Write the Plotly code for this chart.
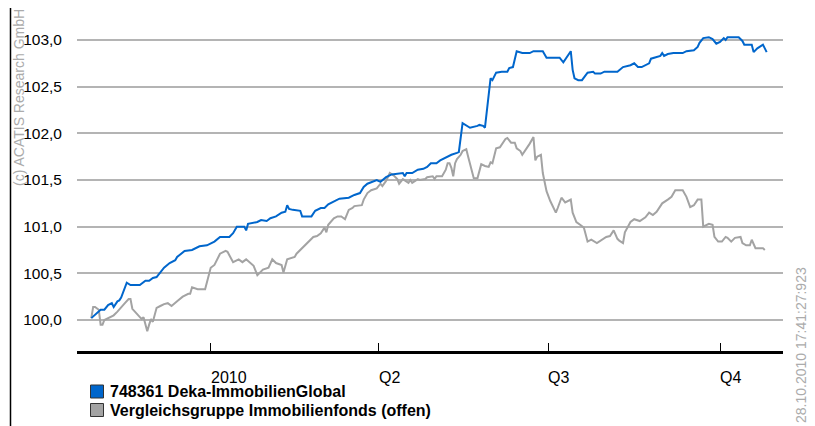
import plotly.graph_objects as go

# ---------------- data ----------------
fund_name = "748361 Deka-ImmobilienGlobal"
peer_name = "Vergleichsgruppe Immobilienfonds (offen)"

fund_dates = [
    "2009-10-29", "2009-10-30", "2009-11-03", "2009-11-05", "2009-11-07", "2009-11-09", "2009-11-10",
    "2009-11-12", "2009-11-13", "2009-11-14", "2009-11-17", "2009-11-19", "2009-11-24", "2009-11-27",
    "2009-11-29", "2009-12-01", "2009-12-03", "2009-12-07", "2009-12-10", "2009-12-13", "2009-12-14",
    "2009-12-18", "2009-12-22", "2009-12-26", "2009-12-30", "2010-01-03", "2010-01-06", "2010-01-11",
    "2010-01-13", "2010-01-15", "2010-01-19", "2010-01-20", "2010-01-21", "2010-01-26", "2010-01-28",
    "2010-01-31", "2010-02-02", "2010-02-05", "2010-02-08", "2010-02-10", "2010-02-11", "2010-02-12",
    "2010-02-14", "2010-02-18", "2010-02-19", "2010-02-24", "2010-02-26", "2010-03-01", "2010-03-03",
    "2010-03-05", "2010-03-09", "2010-03-11", "2010-03-16", "2010-03-19", "2010-03-22", "2010-03-24",
    "2010-03-26", "2010-03-30", "2010-03-31", "2010-04-02", "2010-04-05", "2010-04-08", "2010-04-14",
    "2010-04-15", "2010-04-16", "2010-04-19", "2010-04-22", "2010-04-25", "2010-04-27", "2010-04-29",
    "2010-05-02", "2010-05-04", "2010-05-08", "2010-05-10", "2010-05-13", "2010-05-14", "2010-05-16",
    "2010-05-20", "2010-05-24", "2010-05-25", "2010-05-27", "2010-05-28", "2010-05-31", "2010-06-01",
    "2010-06-03", "2010-06-06", "2010-06-09", "2010-06-10", "2010-06-12", "2010-06-14", "2010-06-17",
    "2010-06-21", "2010-06-23", "2010-06-28", "2010-06-30", "2010-07-07", "2010-07-09", "2010-07-13",
    "2010-07-14", "2010-07-15", "2010-07-17", "2010-07-19", "2010-07-22", "2010-07-25", "2010-07-26",
    "2010-07-29", "2010-07-31", "2010-08-07", "2010-08-10", "2010-08-14", "2010-08-16", "2010-08-18",
    "2010-08-20", "2010-08-23", "2010-08-24", "2010-08-25", "2010-08-27", "2010-08-30", "2010-08-31",
    "2010-09-01", "2010-09-03", "2010-09-06", "2010-09-11", "2010-09-13", "2010-09-17", "2010-09-19",
    "2010-09-20", "2010-09-22", "2010-09-25", "2010-09-27", "2010-09-29", "2010-10-01", "2010-10-03",
    "2010-10-04", "2010-10-05", "2010-10-11", "2010-10-13", "2010-10-14", "2010-10-18", "2010-10-19",
    "2010-10-21", "2010-10-24", "2010-10-26",
]
fund_values = [
    100.02, 100.04, 100.11, 100.11, 100.16, 100.18, 100.14,
    100.20, 100.21, 100.24, 100.40, 100.375, 100.375, 100.42,
    100.42, 100.45, 100.46, 100.56, 100.61, 100.64, 100.675,
    100.74, 100.75, 100.79, 100.80, 100.84, 100.89, 100.89,
    100.93, 101.00, 101.00, 100.96, 101.03, 101.05, 101.07,
    101.06, 101.09, 101.11, 101.15, 101.16, 101.23, 101.19,
    101.18, 101.17, 101.11, 101.11, 101.17, 101.20, 101.20,
    101.24, 101.275, 101.30, 101.31, 101.34, 101.36, 101.425,
    101.46, 101.49, 101.50, 101.48, 101.53, 101.56, 101.575,
    101.54, 101.575, 101.575, 101.61, 101.62, 101.64, 101.68,
    101.68, 101.71, 101.75, 101.77, 101.79, 101.80, 102.11,
    102.06, 102.08, 102.09, 102.08, 102.06, 102.59, 102.57,
    102.65, 102.66, 102.66, 102.70, 102.71, 102.88, 102.86,
    102.86, 102.88, 102.88, 102.81, 102.81, 102.76, 102.88,
    102.68, 102.59, 102.57, 102.57, 102.65, 102.66, 102.64,
    102.64, 102.66, 102.66, 102.71, 102.73, 102.75, 102.71,
    102.71, 102.74, 102.75, 102.80, 102.81, 102.83, 102.86,
    102.83, 102.85, 102.86, 102.86, 102.88, 102.89, 102.925,
    102.97, 103.02, 103.03, 103.01, 102.96, 102.98, 103.02,
    103.00, 103.03, 103.03, 102.99, 102.95, 102.95, 102.87,
    102.91, 102.95, 102.87,
]

peer_dates = [
    "2009-10-29", "2009-10-30", "2009-10-31", "2009-11-02", "2009-11-03", "2009-11-04", "2009-11-05",
    "2009-11-07", "2009-11-10", "2009-11-12", "2009-11-13", "2009-11-16", "2009-11-18", "2009-11-19",
    "2009-11-20", "2009-11-22", "2009-11-24", "2009-11-25", "2009-11-26", "2009-11-28", "2009-11-29",
    "2009-11-30", "2009-12-01", "2009-12-03", "2009-12-05", "2009-12-07", "2009-12-09", "2009-12-11",
    "2009-12-14", "2009-12-17", "2009-12-20", "2009-12-21", "2009-12-22", "2009-12-25", "2009-12-29",
    "2009-12-31", "2010-01-01", "2010-01-03", "2010-01-06", "2010-01-09", "2010-01-10", "2010-01-13",
    "2010-01-16", "2010-01-18", "2010-01-20", "2010-01-24", "2010-01-26", "2010-01-29", "2010-02-01",
    "2010-02-03", "2010-02-05", "2010-02-08", "2010-02-09", "2010-02-11", "2010-02-15", "2010-02-16",
    "2010-02-18", "2010-02-20", "2010-02-23", "2010-02-25", "2010-02-27", "2010-03-01", "2010-03-03",
    "2010-03-04", "2010-03-05", "2010-03-08", "2010-03-10", "2010-03-12", "2010-03-14", "2010-03-16",
    "2010-03-18", "2010-03-19", "2010-03-23", "2010-03-24", "2010-03-26", "2010-03-28", "2010-03-31",
    "2010-04-02", "2010-04-03", "2010-04-05", "2010-04-07", "2010-04-09", "2010-04-11", "2010-04-12",
    "2010-04-14", "2010-04-17", "2010-04-18", "2010-04-19", "2010-04-22", "2010-04-23", "2010-04-26",
    "2010-04-27", "2010-04-30", "2010-05-01", "2010-05-02", "2010-05-05", "2010-05-07", "2010-05-08",
    "2010-05-09", "2010-05-10", "2010-05-11", "2010-05-12", "2010-05-13", "2010-05-15", "2010-05-16",
    "2010-05-18", "2010-05-19", "2010-05-21", "2010-05-22", "2010-05-24", "2010-05-26", "2010-05-28",
    "2010-05-30", "2010-05-31", "2010-06-01", "2010-06-03", "2010-06-05", "2010-06-08", "2010-06-09",
    "2010-06-11", "2010-06-13", "2010-06-14", "2010-06-16", "2010-06-17", "2010-06-20", "2010-06-21",
    "2010-06-23", "2010-06-24", "2010-06-25", "2010-06-27", "2010-06-28", "2010-06-30", "2010-07-02",
    "2010-07-04", "2010-07-05", "2010-07-06", "2010-07-08", "2010-07-10", "2010-07-13", "2010-07-14",
    "2010-07-16", "2010-07-18", "2010-07-20", "2010-07-22", "2010-07-24", "2010-07-27", "2010-07-30",
    "2010-08-01", "2010-08-03", "2010-08-05", "2010-08-07", "2010-08-08", "2010-08-10", "2010-08-11",
    "2010-08-14", "2010-08-16", "2010-08-19", "2010-08-22", "2010-08-24", "2010-08-26", "2010-08-28",
    "2010-08-31", "2010-09-03", "2010-09-05", "2010-09-07", "2010-09-11", "2010-09-13", "2010-09-15",
    "2010-09-17", "2010-09-19", "2010-09-21", "2010-09-22", "2010-09-25", "2010-09-27", "2010-09-28",
    "2010-09-30", "2010-10-02", "2010-10-04", "2010-10-05", "2010-10-07", "2010-10-09", "2010-10-12",
    "2010-10-13", "2010-10-15", "2010-10-17", "2010-10-18", "2010-10-20", "2010-10-24", "2010-10-25",
]
peer_values = [
    100.02, 100.14, 100.14, 100.11, 99.95, 99.95, 100.00,
    100.02, 100.05, 100.09, 100.11, 100.18, 100.225, 100.225,
    100.12, 100.075, 100.04, 100.01, 100.03, 99.88, 99.95,
    100.01, 99.98, 100.13, 100.15, 100.17, 100.18, 100.15,
    100.20, 100.25, 100.28, 100.28, 100.35, 100.33, 100.33,
    100.50, 100.56, 100.59, 100.71, 100.74, 100.73, 100.62,
    100.65, 100.62, 100.65, 100.58, 100.48, 100.54, 100.56,
    100.65, 100.61, 100.59, 100.51, 100.65, 100.675, 100.71,
    100.75, 100.78, 100.85, 100.89, 100.90, 100.93, 100.99,
    100.94, 101.02, 101.09, 101.11, 101.11, 101.08, 101.18,
    101.20, 101.22, 101.23, 101.29, 101.36, 101.39, 101.41,
    101.46, 101.435, 101.49, 101.575, 101.55, 101.51, 101.46,
    101.51, 101.47, 101.50, 101.47, 101.51, 101.50, 101.51,
    101.53, 101.54, 101.51, 101.54, 101.54, 101.61, 101.68,
    101.68, 101.63, 101.54, 101.68, 101.725, 101.77, 101.81,
    101.83, 101.75, 101.61, 101.52, 101.52, 101.67, 101.65,
    101.64, 101.69, 101.68, 101.84, 101.85, 101.94, 101.95,
    101.90, 101.90, 101.84, 101.81, 101.77, 101.85, 101.89,
    101.96, 101.71, 101.75, 101.77, 101.575, 101.38, 101.275,
    101.20, 101.15, 101.20, 101.31, 101.26, 101.29, 101.15,
    101.05, 101.02, 100.99, 100.84, 100.86, 100.825, 100.87,
    100.89, 100.90, 100.96, 100.87, 100.85, 100.825, 100.94,
    101.05, 101.08, 101.06, 101.10, 101.15, 101.125, 101.16,
    101.25, 101.29, 101.32, 101.39, 101.39, 101.32, 101.21,
    101.23, 101.29, 101.29, 101.00, 101.03, 101.02, 100.89,
    100.84, 100.84, 100.89, 100.88, 100.84, 100.88, 100.89,
    100.825, 100.80, 100.80, 100.86, 100.77, 100.77, 100.75,
]

y_tick_values = [100.0, 100.5, 101.0, 101.5, 102.0, 102.5, 103.0]
x_tick_dates = ["2010-01-01", "2010-04-01", "2010-07-01", "2010-10-01"]
x_tick_labels = ["2010", "Q2", "Q3", "Q4"]

copyright_text = "(c) ACATIS Research GmbH"
timestamp_text = "28.10.2010 17:41:27:923"

# ---------------- styling / layout ----------------
# The page places the figure 8 px from the top-left corner (body margin),
# so the figure is laid out in page pixels shifted by OFF.
OFF = 8
PAGE_W, PAGE_H = 815, 426
W, H = PAGE_W - OFF, PAGE_H - OFF
PLOT_L, PLOT_R, PLOT_T, PLOT_B = 77, 783, 20, 351   # page pixels
ML = PLOT_L - OFF
MT = PLOT_T - OFF
MR = W - (PLOT_R - OFF)
MB = H - (PLOT_B - OFF)
PW = PLOT_R - PLOT_L
PH = PLOT_B - PLOT_T

BLUE = "#0066CC"
GRAY = "#A3A3A3"
FONT = "Liberation Sans, Arial, sans-serif"


def px_x(px):
    return (px - PLOT_L) / PW


def px_y(py):
    return (PLOT_B - py) / PH


fig = go.Figure()
fig.add_trace(go.Scatter(x=peer_dates, y=peer_values, mode="lines", name=peer_name,
                         line=dict(color=GRAY, width=2), showlegend=False))
fig.add_trace(go.Scatter(x=fund_dates, y=fund_values, mode="lines", name=fund_name,
                         line=dict(color=BLUE, width=2), showlegend=False))

shapes = [
    # outer frame
    dict(type="rect", xref="paper", yref="paper",
         x0=px_x(10.5), x1=px_x(811), y0=px_y(445), y1=px_y(5),
         line=dict(color="black", width=1.5), fillcolor="rgba(0,0,0,0)", layer="above"),
    # legend swatches
    dict(type="rect", xref="paper", yref="paper",
         x0=px_x(90.5), x1=px_x(103.5), y0=px_y(398), y1=px_y(385),
         line=dict(color="#333333", width=1), fillcolor=BLUE),
    dict(type="rect", xref="paper", yref="paper",
         x0=px_x(90.5), x1=px_x(103.5), y0=px_y(416.5), y1=px_y(403.5),
         line=dict(color="#333333", width=1), fillcolor=GRAY),
]

annotations = []
for d, lab in zip(x_tick_dates, x_tick_labels):
    annotations.append(dict(x=d, xref="x", y=px_y(377), yref="paper", text=lab,
                            xanchor="left", yanchor="middle", showarrow=False,
                            borderpad=0, borderwidth=0,
                            font=dict(family=FONT, size=16, color="black")))
for name, cy in [(fund_name, 391.5), (peer_name, 410)]:
    annotations.append(dict(x=px_x(110), xref="paper", y=px_y(cy), yref="paper",
                            text="<b>" + name + "</b>", xanchor="left", yanchor="middle",
                            showarrow=False, borderpad=0, borderwidth=0,
                            font=dict(family=FONT, size=16, color="black")))
annotations.append(dict(x=px_x(19), xref="paper", y=px_y(98), yref="paper", text=copyright_text,
                        textangle=-90, xanchor="center", yanchor="middle", showarrow=False,
                        borderpad=0, borderwidth=0,
                        font=dict(family=FONT, size=14, color="#ABABAB")))
annotations.append(dict(x=px_x(801), xref="paper", y=px_y(345), yref="paper", text=timestamp_text,
                        textangle=-90, xanchor="center", yanchor="middle", showarrow=False,
                        borderpad=0, borderwidth=0,
                        font=dict(family=FONT, size=14, color="#ABABAB")))

fig.update_layout(
    width=W, height=H,
    margin=dict(l=ML, r=MR, t=MT, b=MB, pad=0),
    paper_bgcolor="white", plot_bgcolor="white",
    separators=",.",
    showlegend=False,
    font=dict(family=FONT, size=15.5, color="black"),
    shapes=shapes, annotations=annotations,
    xaxis=dict(
        type="date",
        range=["2009-10-21 08:00", "2010-11-03 18:00"],
        showgrid=False, zeroline=False,
        showline=True, linecolor="black", linewidth=3,
        ticks="inside", ticklen=8, tickwidth=1.2, tickcolor="black",
        tickvals=x_tick_dates, showticklabels=False,
        fixedrange=True,
    ),
    yaxis=dict(
        range=[99.6678, 103.2143],
        tickvals=y_tick_values, tickformat=".1f",
        showgrid=True, gridcolor="#B4B4B4", gridwidth=1.5,
        zeroline=False, showline=False, ticks="",
        ticklabelstandoff=14,
        tickfont=dict(family=FONT, size=15.5, color="black"),
        fixedrange=True,
    ),
)

fig.write_html("out.html")
